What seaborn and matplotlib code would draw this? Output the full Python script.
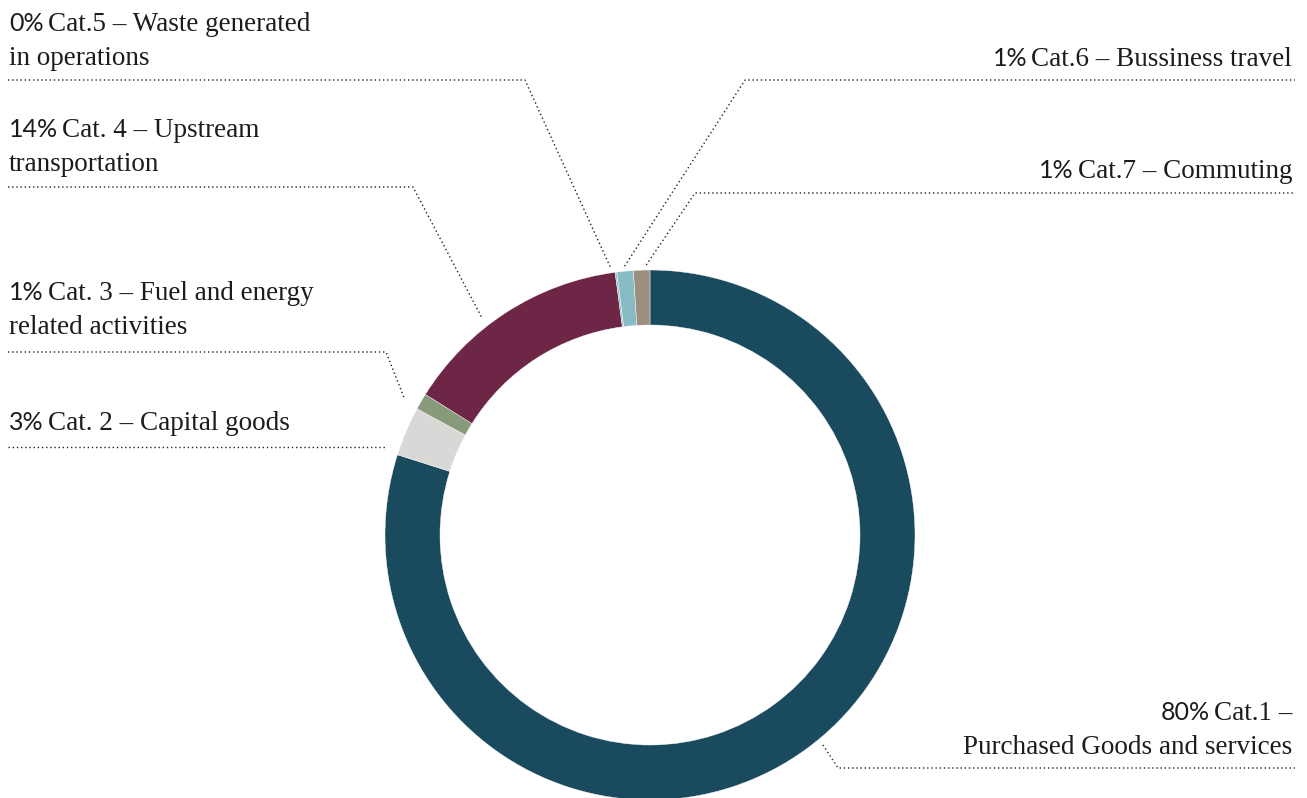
import numpy as np
import matplotlib
matplotlib.use("Agg")
import matplotlib.pyplot as plt
import seaborn as sns

# ---------------- data ----------------
categories = ["Cat.1", "Cat. 2", "Cat. 3", "Cat. 4", "Cat.5", "Cat.6", "Cat.7"]
values = [79.9, 3.0, 1.0, 14.0, 0.1, 1.0, 1.0]
pct_labels = ["80%", "3%", "1%", "14%", "0%", "1%", "1%"]
desc_line1 = ["Cat.1 \u2013", "Cat. 2 \u2013 Capital goods", "Cat. 3 \u2013 Fuel and energy",
              "Cat. 4 \u2013 Upstream", "Cat.5 \u2013 Waste generated",
              "Cat.6 \u2013 Bussiness travel", "Cat.7 \u2013 Commuting"]
desc_line2 = ["Purchased Goods and services", "", "related activities",
              "transportation", "in operations", "", ""]
colors = ["#1a4a5e", "#d9d8d6", "#879a7a", "#6e2646", "#88bcc4", "#88bcc4", "#9c8f7f"]

# ---------------- layout (pixel coordinates, y downward) ----------------
W, H = 1307, 798
CX, CY = 650, 535
R_OUT, RING_W = 265, 55
# (side, x, baseline y of first line)
text_pos = {
    0: ("right", 1292, 720),
    1: ("left", 9, 430),
    2: ("left", 9, 300),
    3: ("left", 9, 137),
    4: ("left", 9, 31),
    5: ("right", 1292, 66),
    6: ("right", 1292, 178),
}
LINE_SP = 34
# leader: rule y, rule start x, rule end x, elbow x, end radius, angle offset (deg)
leaders = {
    0: (768, 838, 1295, 838, 272, 3.3),
    1: (447, 8, 386, None, None, 0),
    2: (352, 8, 386, 386, 282, 1.0),
    3: (187, 8, 413, 413, 274, 5.0),
    4: (80, 8, 525, 525, 270, 1.0),
    5: (80, 745, 1295, 745, 270, 0.0),
    6: (193, 695, 1295, 695, 270, -1.0),
}

sns.set_theme(style="white")
plt.rcParams["font.family"] = ["Liberation Serif", "DejaVu Serif"]

fig = plt.figure(figsize=(W / 100, H / 100), dpi=100)
ax = fig.add_axes([0, 0, 1, 1])
ax.axis("off")

def py(y):
    return H - y

ax.pie(values, colors=colors, startangle=90, counterclock=False,
       center=(CX, py(CY)), radius=R_OUT,
       wedgeprops=dict(width=RING_W, edgecolor="white", linewidth=0.3))
ax.set_xlim(0, W)
ax.set_ylim(0, H)
ax.set_aspect("auto")
ax.set_position([0, 0, 1, 1])

fr = np.array(values) / np.sum(values)
cum = np.cumsum(fr)
mid = cum - fr / 2
mid_ang = 90 - 360 * mid

txt_color = "#1c1c1c"
serif_kw = dict(fontsize=19.5, color=txt_color, family=["Liberation Serif", "DejaVu Serif"])
sans_kw = dict(fontsize=18, color=txt_color, family=["Lato", "DejaVu Sans"], fontweight="normal")

fig.canvas.draw()
rend = fig.canvas.get_renderer()

def width_of(t):
    return t.get_window_extent(renderer=rend).width

GAP = 4
for i in range(len(categories)):
    side, x, y1 = text_pos[i]
    if side == "left":
        tp = ax.text(x, py(y1), pct_labels[i], ha="left", va="baseline", **sans_kw)
        wp = width_of(tp)
        ax.text(x + wp + GAP, py(y1), desc_line1[i], ha="left", va="baseline", **serif_kw)
        if desc_line2[i]:
            ax.text(x, py(y1 + LINE_SP), desc_line2[i], ha="left", va="baseline", **serif_kw)
    else:
        td = ax.text(x, py(y1), desc_line1[i], ha="right", va="baseline", **serif_kw)
        wd = width_of(td)
        ax.text(x - wd - GAP, py(y1), pct_labels[i], ha="right", va="baseline", **sans_kw)
        if desc_line2[i]:
            ax.text(x, py(y1 + LINE_SP), desc_line2[i], ha="right", va="baseline", **serif_kw)

    ry, rx0, rx1, ex, er, aoff = leaders[i]
    xs = [rx0, rx1]
    ys = [py(ry), py(ry)]
    if ex is not None:
        a = np.deg2rad(mid_ang[i] + aoff)
        endx = CX + er * np.cos(a)
        endy = py(CY) + er * np.sin(a)
        if ex == rx0:
            xs = [endx, ex, rx1]
            ys = [endy, py(ry), py(ry)]
        else:
            xs = [rx0, ex, endx]
            ys = [py(ry), py(ry), endy]
    ax.plot(xs, ys, linestyle=(0, (1, 2)), lw=1.0, color="#222222")

fig.savefig("out.png", dpi=100, facecolor="white")
